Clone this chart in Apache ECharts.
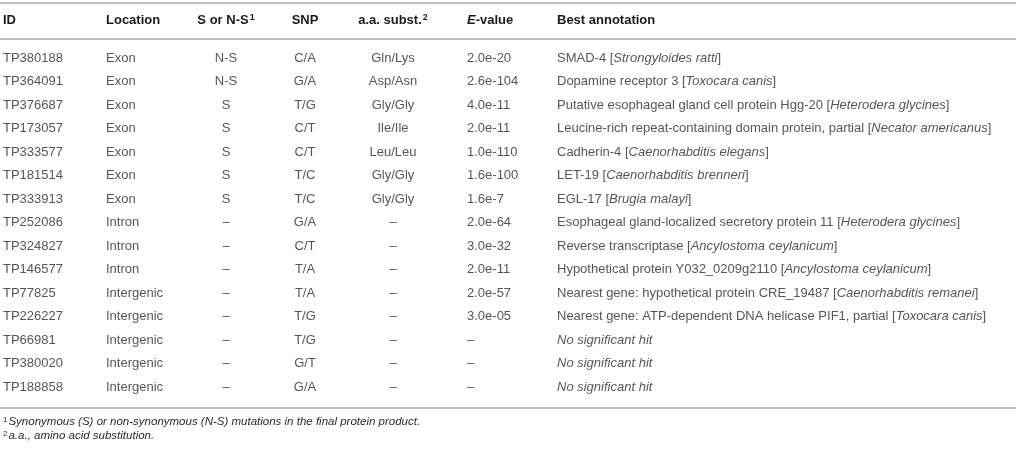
<!DOCTYPE html>
<html>
<head>
<meta charset="utf-8">
<script src="https://cdn.jsdelivr.net/npm/echarts@6/dist/echarts.min.js"></script>
<style>
  html, body { margin: 0; background: #fff; }
  #chart { width: 1016px; height: 450px; }
</style>
</head>
<body>
<div id="chart"></div>
<script>
// table content
const ids = ["TP380188", "TP364091", "TP376687", "TP173057", "TP333577", "TP181514", "TP333913", "TP252086", "TP324827", "TP146577", "TP77825", "TP226227", "TP66981", "TP380020", "TP188858"];
const locations = ["Exon", "Exon", "Exon", "Exon", "Exon", "Exon", "Exon", "Intron", "Intron", "Intron", "Intergenic", "Intergenic", "Intergenic", "Intergenic", "Intergenic"];
const synonymy = ["N-S", "N-S", "S", "S", "S", "S", "S", "–", "–", "–", "–", "–", "–", "–", "–"];
const snps = ["C/A", "G/A", "T/G", "C/T", "C/T", "T/C", "T/C", "G/A", "C/T", "T/A", "T/A", "T/G", "T/G", "G/T", "G/A"];
const aaSubst = ["Gln/Lys", "Asp/Asn", "Gly/Gly", "Ile/Ile", "Leu/Leu", "Gly/Gly", "Gly/Gly", "–", "–", "–", "–", "–", "–", "–", "–"];
const eValues = ["2.0e-20", "2.6e-104", "4.0e-11", "2.0e-11", "1.0e-110", "1.6e-100", "1.6e-7", "2.0e-64", "3.0e-32", "2.0e-11", "2.0e-57", "3.0e-05", "–", "–", "–"];
const annotations = [
  "SMAD-4",
  "Dopamine receptor 3",
  "Putative esophageal gland cell protein Hgg-20",
  "Leucine-rich repeat-containing domain protein, partial",
  "Cadherin-4",
  "LET-19",
  "EGL-17",
  "Esophageal gland-localized secretory protein 11",
  "Reverse transcriptase",
  "Hypothetical protein Y032_0209g2110",
  "Nearest gene: hypothetical protein CRE_19487",
  "Nearest gene: ATP-dependent DNA helicase PIF1, partial",
  "No significant hit",
  "No significant hit",
  "No significant hit",
];
const species = ["Strongyloides ratti", "Toxocara canis", "Heterodera glycines", "Necator americanus", "Caenorhabditis elegans", "Caenorhabditis brenneri", "Brugia malayi", "Heterodera glycines", "Ancylostoma ceylanicum", "Ancylostoma ceylanicum", "Caenorhabditis remanei", "Toxocara canis", null, null, null];

const headers = ["ID", "Location", "S or N-S", "SNP", "a.a. subst.", "-value", "Best annotation"];
const headerMarks = ["", "", "1", "", "2", "", ""];
const footnoteMarks = ["1", "2"];
const footnotes = [
  "Synonymous (S) or non-synonymous (N-S) mutations in the final protein product.",
  "a.a., amino acid substitution.",
];

// layout
const colX = [3, 106, 226, 305, 393, 467, 557];
const colAlign = ["left", "left", "center", "center", "center", "left", "left"];
const textColor = "#2b2b2b";
const ruleColor = "#a9a9a9";
const font = "Liberation Sans";
const fontSize = 13;
const rowTop = 46.25;
const rowBand = 23.5;

const chart = echarts.init(document.getElementById("chart"), null, { renderer: "canvas" });

function annotationText(i) {
  if (!species[i]) return `{i|${annotations[i]}}`;
  return `${annotations[i]} [{i|${species[i]}}]`;
}

function textColumn(col, values) {
  return {
    type: "scatter",
    symbolSize: 0,
    silent: true,
    data: values.map((_, i) => [colX[col], ids[i]]),
    label: {
      show: true,
      position: "inside",
      align: colAlign[col],
      verticalAlign: "middle",
      color: textColor,
      fontFamily: font,
      fontSize,
      formatter: (p) => (col === 6 ? annotationText(p.dataIndex) : values[p.dataIndex]),
      rich: {
        i: { fontStyle: "italic", color: textColor, fontFamily: font, fontSize },
      },
    },
  };
}

function headerText(col) {
  let text = `{b|${headers[col]}}`;
  if (col === 5) text = `{bi|E}{b|${headers[col]}}`;
  if (headerMarks[col]) text += `{sup|${headerMarks[col]}}`;
  return {
    type: "text",
    x: colX[col],
    y: 20,
    silent: true,
    style: {
      text,
      align: colAlign[col],
      verticalAlign: "middle",
      rich: {
        b: { fontWeight: "bold", fontFamily: font, fontSize, fill: "#1a1a1a", color: "#1a1a1a" },
        bi: { fontWeight: "bold", fontStyle: "italic", fontFamily: font, fontSize, fill: "#1a1a1a", color: "#1a1a1a" },
        sup: { fontWeight: "bold", fontFamily: font, fontSize: 9, fill: "#1a1a1a", color: "#1a1a1a", verticalAlign: "top", padding: [0, 0, 5, 1] },
      },
    },
  };
}

function rule(y) {
  return {
    type: "line",
    silent: true,
    shape: { x1: 0, y1: y, x2: 1016, y2: y },
    style: { stroke: ruleColor, lineWidth: 1.5 },
  };
}

function footnote(k, y) {
  return {
    type: "text",
    x: 3,
    y,
    silent: true,
    style: {
      text: `{sup|${footnoteMarks[k]}}{i|${footnotes[k]}}`,
      verticalAlign: "middle",
      rich: {
        sup: { fontFamily: font, fontSize: 8, fill: textColor, color: textColor, verticalAlign: "top", padding: [0, 1, 4, 0] },
        i: { fontFamily: font, fontStyle: "italic", fontSize: 11.5, fill: textColor, color: textColor },
      },
    },
  };
}

chart.setOption({
  animation: false,
  backgroundColor: "#fff",
  grid: { left: 0, right: 0, top: rowTop, height: rowBand * ids.length },
  xAxis: { type: "value", min: 0, max: 1016, show: false },
  yAxis: { type: "category", data: ids, inverse: true, show: false },
  graphic: [
    rule(3), rule(39), rule(408),
    ...headers.map((_, c) => headerText(c)),
    footnote(0, 422), footnote(1, 436),
  ],
  series: [
    textColumn(0, ids),
    textColumn(1, locations),
    textColumn(2, synonymy),
    textColumn(3, snps),
    textColumn(4, aaSubst),
    textColumn(5, eValues),
    textColumn(6, annotations),
  ],
});
</script>
</body>
</html>
